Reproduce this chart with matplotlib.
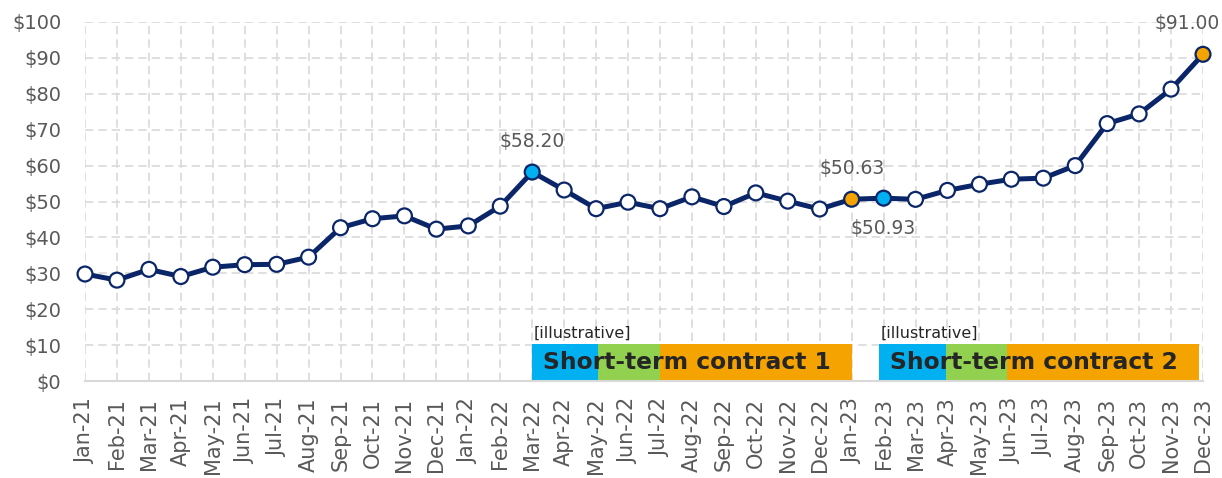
import matplotlib
matplotlib.use("Agg")
import matplotlib.pyplot as plt
import numpy as np

months = ["Jan-21","Feb-21","Mar-21","Apr-21","May-21","Jun-21","Jul-21","Aug-21","Sep-21","Oct-21","Nov-21","Dec-21",
          "Jan-22","Feb-22","Mar-22","Apr-22","May-22","Jun-22","Jul-22","Aug-22","Sep-22","Oct-22","Nov-22","Dec-22",
          "Jan-23","Feb-23","Mar-23","Apr-23","May-23","Jun-23","Jul-23","Aug-23","Sep-23","Oct-23","Nov-23","Dec-23"]
prices = [29.8, 28.1, 31.1, 29.1, 31.7, 32.4, 32.5, 34.5, 42.7, 45.2, 46.0, 42.3,
          43.2, 48.7, 58.20, 53.2, 48.0, 49.8, 48.0, 51.3, 48.6, 52.4, 50.1, 47.9,
          50.63, 50.93, 50.6, 53.1, 54.8, 56.2, 56.5, 60.0, 71.7, 74.4, 81.3, 91.00]

# highlighted points: (month, colour key, label position)
highlights = {"Mar-22": ("blue", "above"), "Jan-23": ("orange", "above"),
              "Feb-23": ("blue", "below"), "Dec-23": ("orange", "above")}

# contracts: start month index, segment durations (months), bar height ($)
contract_names = ["Short-term contract 1", "Short-term contract 2"]
contract_starts = [14.0, 24.87]
segment_lengths = [2.07, 1.93, 6.0]
bar_height = 10.3

NAVY = "#0A2669"
BLUE = "#00B0F0"
GREEN = "#92D050"
ORANGE = "#F5A300"
GREY = "#595959"
DARK = "#262626"
cmap = {"blue": BLUE, "orange": ORANGE}

fig = plt.figure(figsize=(12.22, 4.78), dpi=100)
ax = fig.add_axes([85/1222, 1-381/478, (1203-85)/1222, (381-22)/478])

x = np.arange(len(months))

# contract bars
seg_colors = [BLUE, GREEN, ORANGE]
for name, start in zip(contract_names, contract_starts):
    left = start
    for L, c in zip(segment_lengths, seg_colors):
        ax.bar(left, bar_height, width=L, align="edge", color=c, zorder=2, linewidth=0)
        left += L
    ax.text(start + 0.33, bar_height/2, name, fontsize=16.8, fontweight="bold", color=DARK,
            va="center", ha="left", zorder=3)
    ax.text(start + 0.05, bar_height + 1.0, "[illustrative]", fontsize=11.5, color=DARK,
            va="bottom", ha="left", zorder=3)

# line
ax.plot(x, prices, color=NAVY, lw=3.6, zorder=4, clip_on=False)
fc = ["white"] * len(months)
for m, (c, pos) in highlights.items():
    fc[months.index(m)] = cmap[c]
ax.scatter(x, prices, s=115, facecolors=fc, edgecolors=NAVY, linewidths=1.6, zorder=5, clip_on=False)

for m, (c, pos) in highlights.items():
    i = months.index(m)
    if m == "Dec-23":
        ax.annotate(f"${prices[i]:.2f}", (x[i], prices[i]), xytext=(12, 22), textcoords="offset points",
                    ha="right", va="center", fontsize=13.5, color=GREY, zorder=6, annotation_clip=False)
        continue
    dy = 22 if pos == "above" else -22
    ax.annotate(f"${prices[i]:.2f}", (x[i], prices[i]), xytext=(0, dy), textcoords="offset points",
                ha="center", va="center", fontsize=13.5, color=GREY, zorder=6, annotation_clip=False)

ax.set_xlim(0, len(months) - 1)
ax.set_ylim(0, 100)
ax.set_yticks(np.arange(0, 101, 10))
ax.set_yticklabels([f"${v}" for v in range(0, 101, 10)])
ax.set_xticks(x)
ax.set_xticklabels(months, rotation=90)
ax.tick_params(axis="y", length=0, pad=17, labelsize=14, labelcolor=GREY)
ax.tick_params(axis="x", length=0, pad=12, labelsize=15, labelcolor=GREY)

ax.grid(True, color="#D9D9D9", linestyle=(0, (5, 3)), linewidth=1.2, zorder=0)
ax.set_axisbelow(True)
for s in ["top", "right", "left"]:
    ax.spines[s].set_visible(False)
ax.spines["bottom"].set_color("#D9D9D9")
ax.spines["bottom"].set_linewidth(1.5)

fig.savefig("out.png", dpi=100)
